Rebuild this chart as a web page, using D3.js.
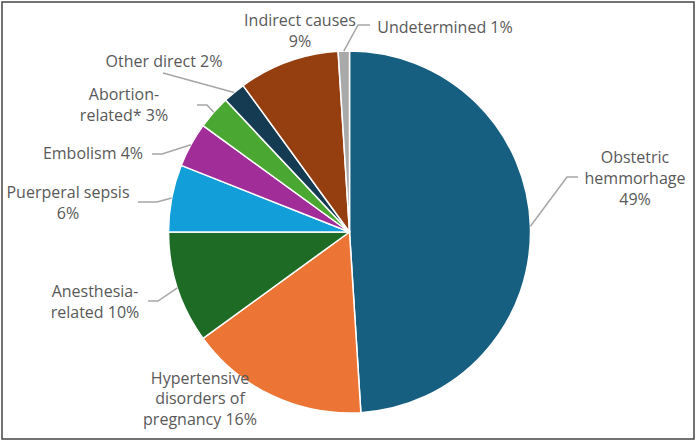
<!DOCTYPE html>
<html><head><meta charset="utf-8">
<script src="https://cdn.jsdelivr.net/npm/d3@7"></script>
<style>html,body{margin:0;padding:0;background:#fff;}svg{display:block;}</style>
</head><body>
<svg id="chart" width="697" height="442"></svg>
<script>
const categories = ["Obstetric hemmorhage","Hypertensive disorders of pregnancy","Anesthesia-related","Puerperal sepsis","Embolism","Abortion-related*","Other direct","Indirect causes","Undetermined"];
const values = [49,16,10,6,4,3,2,9,1];
const colors = ["#165f80","#ec7434","#1d6b25","#129fd9","#a02d98","#4aa832","#143b52","#953f10","#a9a9a9"];
const labelLines = [
  ["Obstetric","hemmorhage","49%"],
  ["Hypertensive","disorders of","pregnancy 16%"],
  ["Anesthesia-","related 10%"],
  ["Puerperal sepsis","6%"],
  ["Embolism 4%"],
  ["Abortion-","related* 3%"],
  ["Other direct 2%"],
  ["Indirect causes","9%"],
  ["Undetermined 1%"]
];
// layout: label center x, first line y, leader elbow / end (null = no leader)
const labelLayout = [
  {x:635, y:157.5, elbow:[567,177], end:[578,177]},
  {x:200, y:378, elbow:null},
  {x:95,  y:291.5, elbow:[158,301], end:[148,301]},
  {x:68,  y:192.5, elbow:[157,202], end:[138,202]},
  {x:93,  y:153, elbow:[162,154], end:[152,154]},
  {x:124, y:94.5,  elbow:[207,105], end:[197,105]},
  {x:164, y:61,  elbow:[163,73], end:[163,73]},
  {x:300, y:20.5,  elbow:null},
  {x:445, y:27,  elbow:[358,25], end:[370,25]}
];

const svg = d3.select("#chart");
const W = 697, H = 442;
svg.append("rect").attr("x",2).attr("y",2).attr("width",W-5).attr("height",H-5)
  .attr("fill","#fff").attr("stroke","#454545").attr("stroke-width",1.5);

const cx = 349.5, cy = 232, r = 181;
const g = svg.append("g").attr("transform",`translate(${cx},${cy})`);
const pie = d3.pie().sort(null).value(d=>d);
const arcs = pie(values);
const arc = d3.arc().innerRadius(0).outerRadius(r);

g.selectAll("path.slice").data(arcs).join("path")
  .attr("class","slice")
  .attr("d",arc)
  .attr("fill",(d,i)=>colors[i])
  .attr("stroke","#fff").attr("stroke-width",1.5).attr("stroke-linejoin","round");

// leader lines
arcs.forEach((d,i)=>{
  const L = labelLayout[i];
  if(!L.elbow) return;
  const a = (d.startAngle+d.endAngle)/2;
  const p0 = [cx + r*Math.sin(a), cy - r*Math.cos(a)];
  const pts = [p0, L.elbow, L.end];
  svg.append("path").attr("d", d3.line()(pts))
    .attr("fill","none").attr("stroke","#a6a6a6").attr("stroke-width",1.5);
});

// labels
const lineH = 20.8;
labelLines.forEach((lines,i)=>{
  const L = labelLayout[i];
  const t = svg.append("text")
    .attr("text-anchor","middle")
    .attr("font-family","'Open Sans', sans-serif")
    .attr("font-size",16)
    .attr("fill","#595959");
  lines.forEach((s,j)=>{
    t.append("tspan").attr("x",L.x).attr("y",L.y + j*lineH).attr("dy","0.35em").text(s);
  });
});
</script>
</body></html>
